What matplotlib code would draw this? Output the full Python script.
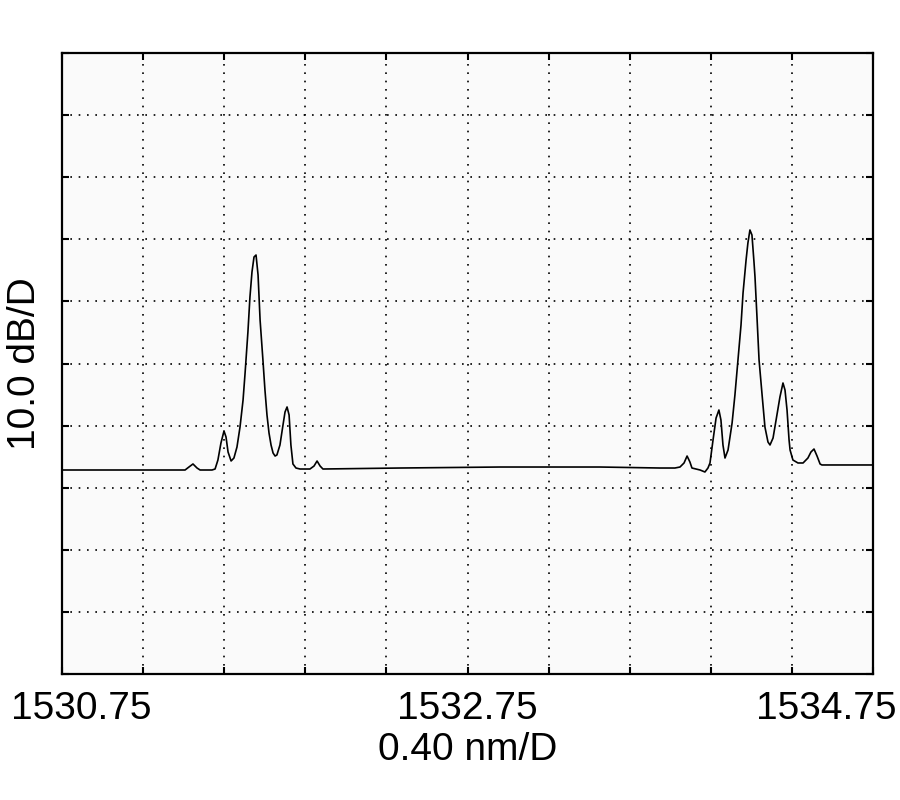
import matplotlib
matplotlib.use("Agg")
import matplotlib.pyplot as plt
import matplotlib.transforms as mtransforms

plt.rcParams['font.family'] = ['Liberation Sans', 'DejaVu Sans']

# Trace data: wavelength (nm) and level (dB, 10 dB/div, arbitrary reference)
wavelength = [1530.750, 1531.036, 1531.357, 1531.376, 1531.396, 1531.416, 1531.431, 1531.490,
              1531.505, 1531.519, 1531.534, 1531.549, 1531.559, 1531.569, 1531.584, 1531.598,
              1531.613, 1531.628, 1531.643, 1531.653, 1531.667, 1531.677, 1531.687, 1531.697,
              1531.707, 1531.717, 1531.727, 1531.741, 1531.751, 1531.761, 1531.771, 1531.781,
              1531.791, 1531.801, 1531.810, 1531.825, 1531.840, 1531.850, 1531.860, 1531.870,
              1531.879, 1531.889, 1531.904, 1531.924, 1531.973, 1531.993, 1532.008, 1532.023,
              1532.037, 1532.417, 1532.910, 1533.404, 1533.699, 1533.773, 1533.798, 1533.818,
              1533.833, 1533.847, 1533.857, 1533.897, 1533.921, 1533.936, 1533.946, 1533.961,
              1533.976, 1533.990, 1534.000, 1534.010, 1534.020, 1534.035, 1534.055, 1534.069,
              1534.084, 1534.099, 1534.109, 1534.124, 1534.133, 1534.143, 1534.153, 1534.163,
              1534.168, 1534.178, 1534.188, 1534.203, 1534.217, 1534.232, 1534.242, 1534.257,
              1534.272, 1534.291, 1534.306, 1534.316, 1534.326, 1534.336, 1534.341, 1534.355,
              1534.380, 1534.405, 1534.429, 1534.444, 1534.459, 1534.474, 1534.489, 1534.498,
              1534.637, 1534.750]
level_db = [32.85, 32.85, 32.85, 33.33, 33.82, 33.17, 32.85, 32.85,
            33.01, 34.46, 37.20, 39.13, 38.16, 35.75, 34.30, 34.78,
            36.55, 39.77, 44.12, 48.47, 55.07, 60.71, 64.73, 67.15,
            67.47, 64.25, 57.00, 50.56, 45.73, 41.71, 38.81, 36.88,
            35.59, 35.10, 35.27, 36.88, 40.10, 42.19, 43.00, 41.71,
            36.88, 33.82, 33.17, 33.01, 33.01, 33.49, 34.30, 33.49,
            33.01, 33.17, 33.33, 33.33, 33.17, 33.17, 33.33, 33.98,
            35.10, 34.14, 33.17, 32.85, 32.53, 33.17, 33.98, 37.68,
            41.22, 42.51, 40.90, 36.88, 34.78, 36.07, 40.42, 44.93,
            50.56, 56.20, 61.35, 66.67, 69.40, 71.50, 70.69, 66.34,
            63.93, 57.33, 50.56, 44.93, 39.77, 37.36, 36.88, 38.00,
            40.90, 44.61, 46.86, 45.73, 42.51, 37.68, 36.07, 34.46,
            33.98, 33.98, 34.78, 35.75, 36.23, 35.10, 33.82, 33.66,
            33.66, 33.66]

x_start, x_stop, x_div = 1530.75, 1534.75, 0.40
y_bottom, y_top, y_div = 0.0, 100.0, 10.0
x_label_values = [1530.75, 1532.75, 1534.75]
x_label_texts = ["1530.75", "1532.75", "1534.75"]
x_axis_title = "0.40 nm/D"
y_axis_title = "10.0 dB/D"

fig = plt.figure(figsize=(9, 8), dpi=100)
ax = fig.add_axes([62/900, 126/800, 811/900, 621/800])
ax.set_facecolor('#fafafa')

ax.plot(wavelength, level_db, color='black', lw=1.2)

ax.set_xlim(x_start, x_stop)
ax.set_ylim(y_bottom, y_top)

xt = [x_start + i * x_div for i in range(11)]
yt = [y_bottom + i * y_div for i in range(11)]
ax.set_xticks(xt)
labels = []
for v in xt:
    lab = ""
    for lv, lt in zip(x_label_values, x_label_texts):
        if abs(v - lv) < 1e-6:
            lab = lt
    labels.append(lab)
ax.set_xticklabels(labels)
ax.set_yticks(yt)
ax.set_yticklabels([])

ax.tick_params(direction='in', length=5, width=1.5, top=True, right=True,
               labelsize=28, pad=12)
ax.grid(True, color='black', linestyle=(0, (1, 4)), lw=1.2)

for s in ax.spines.values():
    s.set_linewidth(1.6)

# shift edge labels so they stay inside the figure
for t in ax.get_xticklabels():
    if t.get_text() == x_label_texts[0]:
        t.set_transform(t.get_transform() + mtransforms.ScaledTranslation(19/100, 0, fig.dpi_scale_trans))
    if t.get_text() == x_label_texts[-1]:
        t.set_transform(t.get_transform() + mtransforms.ScaledTranslation(-47/100, 0, fig.dpi_scale_trans))

ax.set_xlabel(x_axis_title, fontsize=28, labelpad=4)
ax.set_ylabel(y_axis_title, fontsize=28, labelpad=2)

fig.savefig("out.png", dpi=100, facecolor='white')
